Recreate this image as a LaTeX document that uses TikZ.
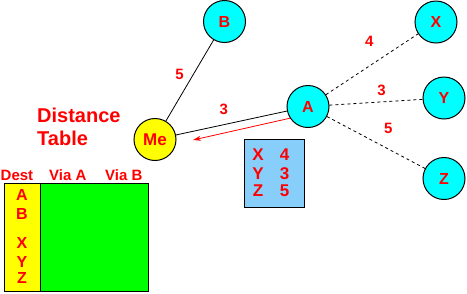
\documentclass[tikz,border=0pt]{standalone}
\usepackage{fontspec}
\setmainfont{Liberation Sans}
\usetikzlibrary{arrows.meta}
\definecolor{peercyan}{RGB}{0,255,255}
\definecolor{meyellow}{RGB}{255,255,0}
\definecolor{tblgreen}{RGB}{0,255,0}
\definecolor{vecblue}{RGB}{135,206,250}
\begin{document}
\begin{tikzpicture}[x=1pt,y=-1pt,
  every node/.style={text=red},
  peer/.style={circle,draw,line width=1pt,fill=peercyan,minimum size=42pt,inner sep=0pt,font=\fontsize{16}{16}\bfseries},
  self/.style={peer,fill=meyellow,font=\fontsize{17}{17}\bfseries},
  wt/.style={font=\fontsize{15}{15}\bfseries},
  title/.style={font=\fontsize{20}{20}\bfseries,anchor=base west,inner sep=0pt},
  hdr/.style={font=\fontsize{15}{15}\bfseries,anchor=base west,inner sep=0pt},
  dst/.style={font=\fontsize{16}{16}\bfseries,anchor=base,inner sep=0pt,text height=11.5pt,text depth=0pt},
  vec/.style={font=\fontsize{17}{17}\bfseries,anchor=base,inner sep=0pt,text height=12pt,text depth=0pt},
  cell/.style={draw,line width=1pt,inner sep=0pt}
]
\useasboundingbox (0,0) rectangle (467,293);
\node[self] (Me) at (155,139.5) {Me};
\node[peer] (B) at (224.5,21.5) {B};
\node[peer] (A) at (308,106.5) {A};
\node[peer] (X) at (436,22) {X};
\node[peer] (Y) at (444,98) {Y};
\node[peer] (Z) at (444,178.5) {Z};
\draw[line width=0.8pt] (Me)--node[wt,pos=0.58,left=6pt] {5} (B);
\draw[line width=0.8pt] (Me)--node[wt,pos=0.43,above=6pt] {3} (A);
\draw[line width=0.8pt,dashed] (A)--node[wt,pos=0.47,above=16pt] {4} (X);
\draw[line width=0.8pt,dashed] (A)--node[wt,pos=0.56,above=3pt] {3} (Y);
\draw[line width=0.8pt,dashed] (A)--node[wt,pos=0.625,above=12pt] {5} (Z);
\coordinate (tip) at (193,140);
\draw[red,line width=0.8pt,-{Stealth[length=8pt,width=5pt]}] (A.213)--(tip);
\node[cell,fill=vecblue,minimum width=60pt,minimum height=68pt] (vbox) at (274,173) {};
\node[vec] (vx) at (258,160) {X};
\node[vec] (vx4) at (284.5,160) {4};
\node[vec] (vy) at (258,179.5) {Y};
\node[vec] (vy3) at (284.5,179.5) {3};
\node[vec] (vz) at (258,196) {Z};
\node[vec] (vz5) at (284.5,196) {5};
\node[title] (dt1) at (37,122) {Distance};
\node[title] (dt2) at (37,145) {Table};
\node[cell,fill=tblgreen,minimum width=144pt,minimum height=108pt] (tbl) at (76,237) {};
\node[cell,fill=meyellow,minimum width=36pt,minimum height=108pt] (col) at (22,237) {};
\node[hdr] (hdest) at (0.5,180) {Dest};
\node[hdr] (hva) at (49,180) {Via A};
\node[hdr] (hvb) at (105,180) {Via B};
\node[dst] (da) at (22,200) {A};
\node[dst] (db) at (22,219) {B};
\node[dst] (dx) at (22,248) {X};
\node[dst] (dy) at (22,267) {Y};
\node[dst] (dz) at (22,283) {Z};
\end{tikzpicture}
\end{document}
